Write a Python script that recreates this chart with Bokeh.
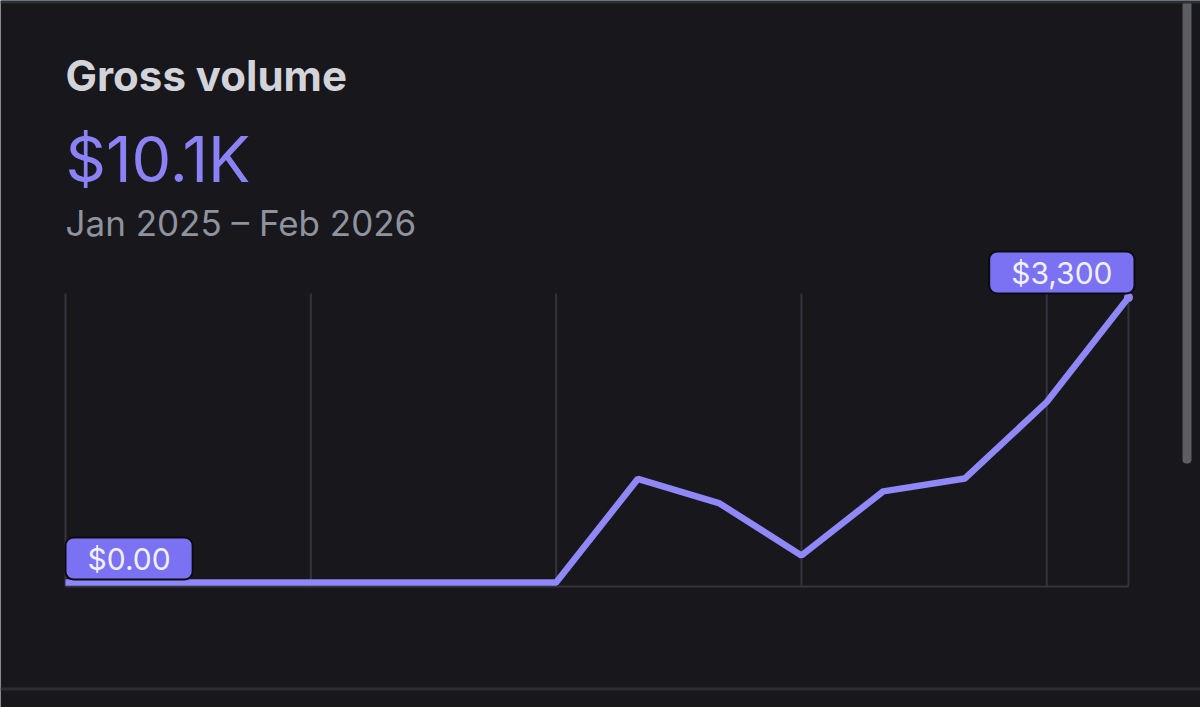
from bokeh.plotting import figure
from bokeh.models import Range1d, Label, BoxAnnotation
from bokeh.embed import file_html
from bokeh.resources import INLINE

# ---- data ----
months = ["Jan 2025", "Feb 2025", "Mar 2025", "Apr 2025", "May 2025", "Jun 2025", "Jul 2025",
          "Aug 2025", "Sep 2025", "Oct 2025", "Nov 2025", "Dec 2025", "Jan 2026", "Feb 2026"]
values = [0, 0, 0, 0, 0, 0, 0, 1200, 915, 313, 1055, 1205, 2090, 3300]
grid_months = [0, 3, 6, 9, 12, 13]
title_text = "Gross volume"
total_text = "$10.1K"
range_text = "Jan 2025 \u2013 Feb 2026"
start_tag = "$0.00"
end_tag = "$3,300"

BG = "#17171c"
GRID = "#34343c"
LINE = "#9087f9"
TAG = "#7a71f3"
FONT = "Inter"

W, H = 1200, 707
x = list(range(len(months)))
n = len(months) - 1

# plot area geometry (pixels) -> data ranges
px_left, px_right = 65, 1128          # x of first / last month
px_zero, px_top = 582, 297            # y of 0 and of the maximum
ppm = (px_right - px_left) / n
vmax = max(values)
upp = vmax / (px_zero - px_top)       # value per pixel
x_range = Range1d(-px_left / ppm, n + (W - px_right) / ppm)
y_range = Range1d(-(H - px_zero) * upp, vmax + px_top * upp)
g_lo, g_hi = -4 * upp, vmax + 4 * upp   # grid extends 4px beyond data

p = figure(width=W, height=H, x_range=x_range, y_range=y_range,
           output_backend="svg", toolbar_location=None, x_axis_type=None, y_axis_type=None,
           min_border=0, background_fill_color=BG, border_fill_color=BG, outline_line_color=None)
p.grid.visible = False

# grid and baseline
p.segment(x0=grid_months, y0=[g_lo] * len(grid_months), x1=grid_months, y1=[g_hi] * len(grid_months),
          line_color=GRID, line_width=2)
p.segment(x0=[x[0]], y0=[g_lo], x1=[x[-1]], y1=[g_lo], line_color=GRID, line_width=2)

p.line(x, values, line_width=6.5, line_color=LINE)
p.scatter(x[-1:], values[-1:], size=9, fill_color=LINE, line_color=None)

# header texts (screen units, from bottom-left)
p.add_layout(Label(x=px_left, y=H - 75, x_units="screen", y_units="screen", text=title_text,
                   text_font=FONT, text_font_style="bold", text_font_size="42px",
                   text_color="#d3d4da", text_baseline="alphabetic"))
p.add_layout(Label(x=px_left, y=H - 158, x_units="screen", y_units="screen", text=total_text,
                   text_font=FONT, text_font_size="63px",
                   text_color="#8c82f8", text_baseline="alphabetic"))
p.add_layout(Label(x=px_left, y=H - 222, x_units="screen", y_units="screen", text=range_text,
                   text_font=FONT, text_font_size="35px",
                   text_color="#8f939e", text_baseline="alphabetic"))

# value tags
p.add_layout(Label(x=x[0], y=values[0], text=start_tag, text_align="left", text_baseline="bottom",
                   y_offset=3, text_font=FONT, text_font_size="30px", text_color="#f1f0ff",
                   background_fill_color=TAG, border_line_color="#0c0c10", border_line_width=2,
                   border_radius=8, padding=(22, 3)))
p.add_layout(Label(x=x[-1], y=values[-1], text=end_tag, text_align="right", text_baseline="bottom",
                   x_offset=6, y_offset=4, text_font=FONT, text_font_size="30px", text_color="#f1f0ff",
                   background_fill_color=TAG, border_line_color="#0c0c10", border_line_width=2,
                   border_radius=8, padding=(22, 3)))

# page chrome: scrollbar, top and bottom dividers
p.add_layout(BoxAnnotation(left=1182, right=1191, top=H, bottom=H - 463,
                           left_units="screen", right_units="screen", top_units="screen", bottom_units="screen",
                           fill_color="#5d5e64", fill_alpha=1, line_color=None, border_radius=4))
p.add_layout(BoxAnnotation(left=0, right=W, top=H - 687, bottom=H - 690,
                           left_units="screen", right_units="screen", top_units="screen", bottom_units="screen",
                           fill_color="#2c2c33", fill_alpha=1, line_color=None))
p.add_layout(BoxAnnotation(left=0, right=W, top=H, bottom=H - 3,
                           left_units="screen", right_units="screen", top_units="screen", bottom_units="screen",
                           fill_color="#2b2f37", fill_alpha=1, line_color=None))

open("out.html", "w").write(file_html(p, INLINE))
